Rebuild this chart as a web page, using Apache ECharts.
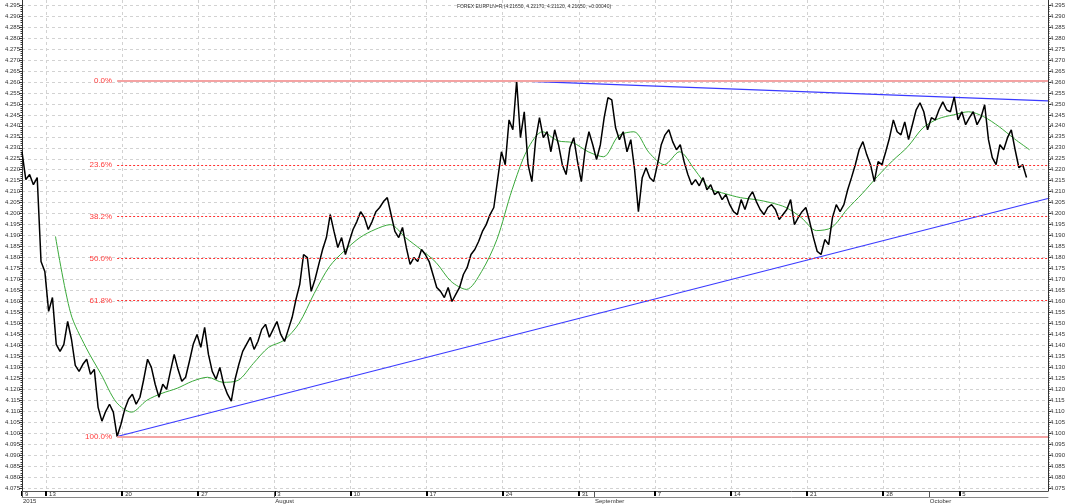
<!DOCTYPE html>
<html><head><meta charset="utf-8">
<script src="https://cdn.jsdelivr.net/npm/echarts@6/dist/echarts.min.js"></script>
<style>html,body{margin:0;padding:0;background:#fff}#c{width:1068px;height:504px}</style>
</head><body><div id="c"></div>
<script>
// x = trading-day index counted from Mon 6 Jul 2015 (weekends skipped, 5 per week)
const titleText = 'FOREX EURPLN=R (4.21650, 4.22170, 4.21120, 4.21650, +0.00040)';
const priceFirstDay = 3.42;
const priceStep = 0.25;
const prices = [
4.2282,4.2155,4.2178,4.2132,4.2164,4.1782,4.1737,4.1555,4.1618,4.1405,
4.1373,4.1405,4.1509,4.1428,4.1309,4.1282,4.1314,4.1337,4.1268,4.1291,
4.1118,4.1055,4.1100,4.1132,4.1096,4.0985,4.1041,4.1109,
4.1155,4.1178,4.1132,4.1164,4.1246,4.1337,4.1300,4.1223,4.1164,4.1223,
4.1200,4.1282,4.1359,4.1291,4.1237,4.1255,4.1328,4.1405,4.1450,4.1391,
4.1482,4.1359,4.1282,4.1246,4.1300,4.1223,4.1178,4.1146,4.1246,4.1314,
4.1373,4.1405,4.1437,4.1382,4.1418,4.1473,4.1496,4.1437,4.1473,4.1509,
4.1450,4.1418,4.1473,4.1528,4.1609,4.1678,4.1814,4.1800,4.1646,4.1700,
4.1769,4.1837,4.1891,4.1996,4.1919,4.1846,4.1891,4.1814,4.1873,4.1928,
4.1964,4.2009,4.1982,4.1928,4.1964,4.2009,4.2028,4.2055,4.2073,4.1996,
4.1919,4.1891,4.1937,4.1846,4.1769,4.1800,4.1782,4.1837,4.1814,4.1782,
4.1723,4.1664,4.1646,4.1618,4.1664,4.1600,4.1632,4.1664,4.1723,4.1755,
4.1814,4.1837,4.1873,4.1919,4.1950,4.1996,4.2028,4.2155,4.2282,4.2223,
4.2427,4.2382,4.2605,4.2346,4.2464,4.2223,4.2146,4.2337,4.2437,4.2346,
4.2373,4.2282,4.2382,4.2314,4.2223,4.2178,4.2300,4.2346,4.2237,4.2146,
4.2291,4.2373,4.2314,4.2246,4.2314,4.2437,4.2528,4.2518,4.2391,4.2337,
4.2373,4.2282,4.2337,4.2200,4.2009,4.2164,4.2209,4.2164,4.2146,4.2223,
4.2314,4.2359,4.2382,4.2328,4.2291,4.2314,4.2237,4.2178,4.2132,4.2155,
4.2127,4.2164,4.2109,4.2132,4.2087,4.2100,4.2064,4.2087,4.2041,4.2009,
4.1996,4.2064,4.2019,4.2073,4.2100,4.2055,4.2019,4.1996,4.2028,4.2041,
4.2019,4.1973,4.1996,4.2019,4.2064,4.1950,4.1982,4.2009,4.2028,4.1964,
4.1891,4.1828,4.1814,4.1882,4.1859,4.1982,4.2041,4.2009,4.2041,4.2109,
4.2164,4.2223,4.2291,4.2328,4.2269,4.2223,4.2146,4.2237,4.2223,4.2282,
4.2346,4.2427,4.2373,4.2359,4.2418,4.2337,4.2405,4.2473,4.2505,4.2464,
4.2382,4.2437,4.2427,4.2473,4.2509,4.2473,4.2464,4.2532,4.2427,4.2464,
4.2405,4.2437,4.2464,4.2405,4.2437,4.2496,4.2337,4.2255,4.2223,4.2314,
4.2291,4.2346,4.2382,4.2291,4.2209,4.2223,4.2165
];
const maFirstDay = 5.62;
const maStep = 1;
const maValues = [
4.1896,4.1546,4.1391,4.1268,4.1141,4.1096,4.1150,4.1182,4.1205,4.1237,
4.1255,4.1232,4.1241,4.1318,4.1391,4.1423,4.1500,4.1637,4.1759,4.1832,
4.1891,4.1928,4.1950,4.1891,4.1837,4.1778,4.1691,4.1655,4.1737,4.1882,
4.2109,4.2291,4.2373,4.2332,4.2323,4.2282,4.2259,4.2355,4.2373,4.2278,
4.2223,4.2282,4.2200,4.2114,4.2091,4.2073,4.2064,4.2050,4.2028,4.1982,
4.1923,4.1937,4.2019,4.2091,4.2169,4.2241,4.2305,4.2391,4.2432,4.2450,
4.2464,4.2441,4.2396,4.2341,4.2291
];
const supportLine = [[9.67, 4.0985], [70.83, 4.2069]];
const resistanceLine = [[35.92, 4.2605], [70.83, 4.2514]];
const fibHigh = 4.2605, fibLow = 4.0985, fibStartDay = 9.67;
const fibLevels = [0, 23.6, 38.2, 50, 61.8, 100];
const weekTickDays = [3.42, 5, 10, 15, 20, 25, 30, 35, 40, 45, 50, 55, 60, 65];
const weekTickLabels = ['9','13','20','27','3','10','17','24','31','7','14','21','28','5'];
const monthTickDays = [3.42, 20, 41, 63];
const monthTickLabels = ['2015', 'August', 'September', 'October'];
const yTicks = [4.075,4.080,4.085,4.090,4.095,4.100,4.105,4.110,4.115,4.120,4.125,4.130,4.135,4.140,4.145,
4.150,4.155,4.160,4.165,4.170,4.175,4.180,4.185,4.190,4.195,4.200,4.205,4.210,4.215,4.220,4.225,4.230,
4.235,4.240,4.245,4.250,4.255,4.260,4.265,4.270,4.275,4.280,4.285,4.290,4.295];
const xMin = 3.42, xMax = 70.83, yMin = 4.0737, yMax = 4.2973;

const minorTicks = [];
for (let i = 0; i < yTicks.length - 1; i++) {
  for (let j = 1; j < 5; j++) minorTicks.push(+(yTicks[i] + (yTicks[i+1]-yTicks[i])*j/5).toFixed(4));
}
const FONT = '"Liberation Sans", Arial, sans-serif';
function lookup(days, labels, v) {
  for (let i = 0; i < days.length; i++) if (Math.abs(days[i]-v) < 1e-6) return labels[i];
  return '';
}
const priceData = prices.map((p, i) => [priceFirstDay + i*priceStep, p]);
const maData = maValues.map((p, i) => [maFirstDay + i*maStep, p]);
const fibData = fibLevels.map(p => {
  const v = fibHigh - p/100*(fibHigh - fibLow);
  const solid = (p === 0 || p === 100);
  return [
    {coord: [fibStartDay, v],
     lineStyle: solid ? {color: '#f4a3a3', width: 2, type: 'solid'} : {color: '#ff3030', width: 1, type: [2, 2]},
     label: {formatter: p.toFixed(1) + '%'}},
    {coord: [xMax, v]}
  ];
});

function yAxisMajor(pos) {
  return {
    type: 'value', position: pos, min: yMin, max: yMax,
    axisLine: {show: true, lineStyle: {color: '#333', width: 1}},
    axisTick: {show: true, customValues: yTicks, length: 3, lineStyle: {color: '#333'}},
    axisLabel: {show: true, customValues: yTicks, formatter: v => v.toFixed(3), fontSize: 6, margin: 2,
                color: '#333', fontFamily: FONT},
    splitLine: {show: pos === 'left', lineStyle: {color: '#d2d2d2', type: [3, 3], width: 1}}
  };
}
function yAxisMinor(pos) {
  return {
    type: 'value', position: pos, min: yMin, max: yMax,
    axisLine: {show: false},
    axisTick: {show: true, customValues: minorTicks, length: 1.5, lineStyle: {color: '#333'}},
    axisLabel: {show: false},
    splitLine: {show: false}
  };
}

const chart = echarts.init(document.getElementById('c'), null, {renderer: 'canvas'});
chart.setOption({
  animation: false,
  backgroundColor: '#fff',
  title: {text: titleText, left: 'center', top: -1,
          textStyle: {fontSize: 5, fontWeight: 'normal', color: '#333', fontFamily: FONT}},
  grid: {left: 22, right: 20, top: 0, bottom: 12},
  xAxis: [
    {type: 'value', min: xMin, max: xMax, position: 'bottom',
     axisLine: {show: true, lineStyle: {color: '#555'}},
     axisTick: {show: true, customValues: weekTickDays, length: 5, lineStyle: {color: '#000', width: 2}},
     axisLabel: {show: true, customValues: weekTickDays, formatter: v => lookup(weekTickDays, weekTickLabels, v),
                 fontSize: 6, margin: 0, align: 'left', verticalAlign: 'top', padding: [0, 0, 0, 3],
                 color: '#333', fontFamily: FONT},
     splitLine: {show: true, lineStyle: {color: '#d2d2d2', type: [3, 3], width: 1}}},
    {type: 'value', min: xMin, max: xMax, position: 'bottom', offset: 6,
     axisLine: {show: true, lineStyle: {color: '#888'}},
     axisTick: {show: true, customValues: monthTickDays, inside: true, length: 6, lineStyle: {color: '#555', width: 1}},
     axisLabel: {show: true, customValues: monthTickDays, formatter: v => lookup(monthTickDays, monthTickLabels, v),
                 fontSize: 6, margin: 1, align: 'left', verticalAlign: 'top', padding: [0, 0, 0, 1],
                 color: '#333', fontFamily: FONT},
     splitLine: {show: false}}
  ],
  yAxis: [yAxisMajor('left'), yAxisMinor('left'), yAxisMajor('right'), yAxisMinor('right')],
  series: [
    {type: 'line', name: 'fib', data: [], z: 1, silent: true,
     markLine: {silent: true, symbol: ['none', 'none'], animation: false,
                label: {show: true, position: 'start', distance: 5, color: '#ff3b3b', fontSize: 8, fontFamily: FONT},
                data: fibData}},
    {type: 'line', name: 'support', data: supportLine, symbol: 'none', z: 2,
     lineStyle: {color: '#3a3aff', width: 1.2}},
    {type: 'line', name: 'resistance', data: resistanceLine, symbol: 'none', z: 2,
     lineStyle: {color: '#3a3aff', width: 1.2}},
    {type: 'line', name: 'ma', data: maData, symbol: 'none', smooth: 0.3, z: 3,
     lineStyle: {color: '#3aa93a', width: 1}},
    {type: 'line', name: 'EURPLN', data: priceData, symbol: 'none', z: 4,
     lineStyle: {color: '#000', width: 1.5}}
  ]
});
</script>
</body></html>
